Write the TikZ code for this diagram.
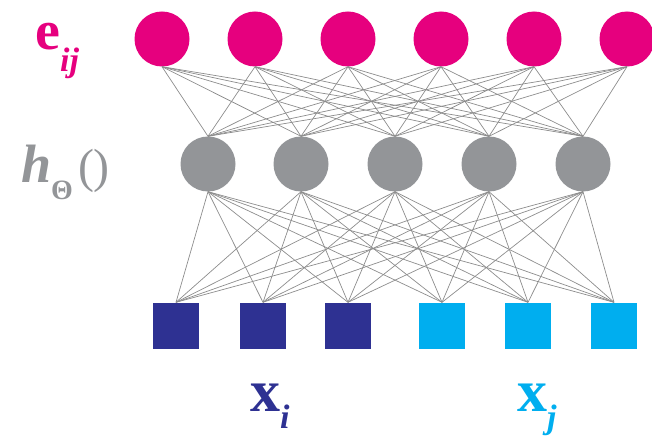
\documentclass[tikz,border=0pt]{standalone}
\usepackage{fontspec}
\setmainfont{Liberation Serif}

\definecolor{outmagenta}{RGB}{230,0,126}
\definecolor{hidgray}{RGB}{147,149,152}
\definecolor{xidark}{RGB}{46,49,146}
\definecolor{xjlight}{RGB}{0,174,239}
\definecolor{wiregray}{RGB}{140,140,140}

% lowered subscript: #1 = drop, #2 = size, #3 = text
\newcommand{\lowsub}[3]{\raisebox{-#1}{\fontsize{#2}{#2}\selectfont #3}}

\begin{document}
\begin{tikzpicture}[x=1pt, y=1pt,
    outnode/.style={circle, fill=outmagenta, minimum size=55pt, inner sep=0pt},
    hidnode/.style={circle, fill=hidgray, minimum size=55pt, inner sep=0pt},
    innode/.style={rectangle, minimum size=46pt, inner sep=0pt},
    wire/.style={wiregray, line width=0.7pt},
    lbl/.style={anchor=base west, inner sep=0pt}]

    \useasboundingbox (0,0) rectangle (652,437);

    % output layer e_ij
    \foreach \xx [count=\i] in {162,255,348,441,534,627}
        \node[outnode] (e\i) at (\xx,398) {};

    % hidden layer h
    \foreach \xx [count=\i] in {208,301,395,489,583}
        \node[hidnode] (h\i) at (\xx,273) {};

    % input squares, x_i on the left and x_j on the right
    \foreach \xx/\col [count=\i] in {176/xidark,263/xidark,348/xidark,442/xjlight,528/xjlight,614/xjlight}
        \node[innode, fill=\col] (x\i) at (\xx,111.5) {};

    % full connections between the layers
    \foreach \i in {1,...,6}
        \foreach \j in {1,...,5}
            \draw[wire] (e\i.south) -- (h\j.north);
    \foreach \j in {1,...,5}
        \foreach \k in {1,...,6}
            \draw[wire] (h\j.south) -- (x\k.north);

    % labels
    \node[lbl, text=outmagenta, font=\fontsize{56}{56}\selectfont] (elbl) at (35,387)
        {\textbf{e}\lowsub{22pt}{34}{\textbf{\textit{ij}}}};
    \node[lbl, text=hidgray, font=\fontsize{54}{54}\selectfont] (hlbl) at (21,255)
        {\textbf{\textit{h}}\lowsub{17pt}{28}{\textbf{Θ}}\hspace{5pt}\fontsize{48}{48}\selectfont()};
    \node[lbl, text=xidark, font=\fontsize{60}{60}\selectfont] (xilbl) at (250,26)
        {\textbf{x}\lowsub{17pt}{34}{\textbf{\textit{i}}}};
    \node[lbl, text=xjlight, font=\fontsize{60}{60}\selectfont] (xjlbl) at (517,26)
        {\textbf{x}\lowsub{17pt}{34}{\textbf{\textit{j}}}};

\end{tikzpicture}
\end{document}
